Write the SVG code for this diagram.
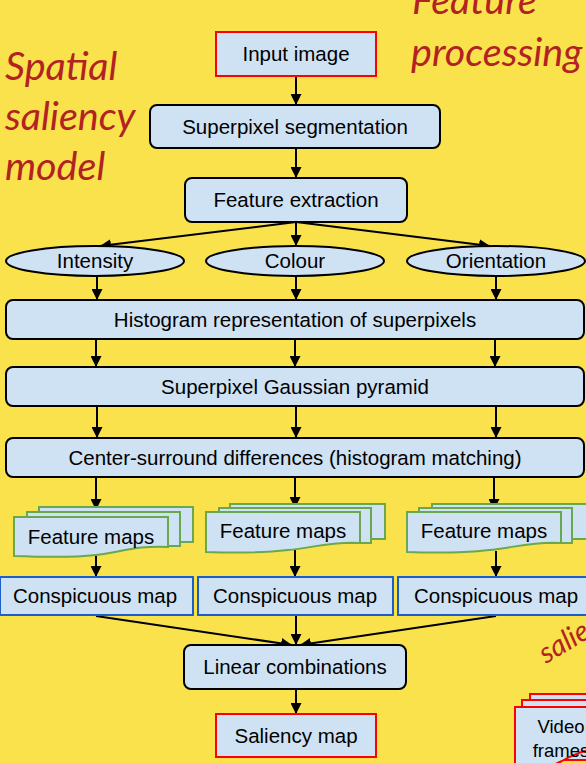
<svg xmlns="http://www.w3.org/2000/svg" width="586" height="763" viewBox="0 0 586 763">
<defs>
<marker id="ah" viewBox="0 0 10 10" refX="10" refY="5" markerWidth="11" markerHeight="11" markerUnits="userSpaceOnUse" orient="auto">
<path d="M0,0 L10,5 L0,10 z" fill="#000"/>
</marker>
<style>
.bg{fill:#F9E24B}
.rbox{fill:#CFE2F3;stroke:#000;stroke-width:2}
.red{fill:#CFE2F3;stroke:#FF0000;stroke-width:2}
.blue{fill:#CFE2F3;stroke:#1C5FC9;stroke-width:2}
.green{fill:#CFE2F3;stroke:#6AA84F;stroke-width:2}
.t{font-family:"Liberation Sans",Arial,sans-serif;font-size:20.5px;fill:#000;text-anchor:middle}
.vt{font-family:"Liberation Sans",Arial,sans-serif;font-size:18.5px;fill:#000;text-anchor:middle}
.it{font-family:Lato,"Open Sans",sans-serif;font-style:italic;font-size:39.5px;fill:#B22222}
.c line,.c path{stroke:#000;stroke-width:2;fill:none;marker-end:url(#ah)}
</style>
</defs>
<rect class="bg" x="0" y="0" width="586" height="763"/>

<g id="labels">
<text class="it" x="5" y="80">Spatial</text>
<text class="it" x="5" y="130">saliency</text>
<text class="it" x="5" y="180">model</text>
<text class="it" x="412" y="14">Feature</text>
<text class="it" x="411" y="66">processing</text>
<text class="it" style="font-size:29px" transform="translate(546,664) rotate(-31)" x="0" y="0">saliency</text>
</g>

<g id="video-frames">
<rect class="red" x="530" y="694" width="80" height="60"/>
<rect class="red" x="522" y="700" width="80" height="60"/>
<path class="red" d="M515,707 H612 V750 C596,746 578,752 562,761 C546,769 530,771 515,769 Z"/>
<text class="vt" x="561" y="733">Video</text>
<text class="vt" x="561" y="757">frames</text>
</g>

<g class="c" id="connectors">
<line x1="296" y1="76" x2="296" y2="105"/>
<line x1="296" y1="148" x2="296" y2="178"/>
<line x1="296" y1="222" x2="100" y2="246"/>
<line x1="296" y1="222" x2="296" y2="246"/>
<line x1="296" y1="222" x2="490" y2="246"/>
<line x1="97" y1="276" x2="97" y2="300"/>
<line x1="296" y1="276" x2="296" y2="300"/>
<line x1="496" y1="276" x2="496" y2="300"/>
<line x1="96" y1="339" x2="96" y2="367"/>
<line x1="295" y1="339" x2="295" y2="367"/>
<line x1="495" y1="339" x2="495" y2="367"/>
<line x1="97" y1="406" x2="97" y2="438"/>
<line x1="296" y1="406" x2="296" y2="438"/>
<line x1="496" y1="406" x2="496" y2="438"/>
<line x1="96" y1="477" x2="96" y2="510"/>
<line x1="295" y1="477" x2="295" y2="508"/>
<line x1="494" y1="477" x2="494" y2="510"/>
<line x1="96" y1="556" x2="96" y2="577"/>
<line x1="295" y1="550" x2="295" y2="577"/>
<line x1="496" y1="551" x2="496" y2="577"/>
<line x1="96" y1="616" x2="292" y2="645"/>
<line x1="296" y1="616" x2="296" y2="645"/>
<line x1="496" y1="616" x2="300" y2="645"/>
<line x1="296" y1="689" x2="296" y2="714"/>
</g>

<g id="input-image">
<rect class="red" x="216" y="32" width="160" height="44"/>
<text class="t" x="296" y="61">Input image</text>
</g>
<g id="superpixel-segmentation">
<rect class="rbox" x="150" y="105" width="290" height="43" rx="7"/>
<text class="t" x="295" y="134">Superpixel segmentation</text>
</g>
<g id="feature-extraction">
<rect class="rbox" x="185" y="178" width="222" height="44" rx="7"/>
<text class="t" x="296" y="207">Feature extraction</text>
</g>
<g id="intensity">
<ellipse class="rbox" cx="95" cy="261" rx="89" ry="15"/>
<text class="t" x="95" y="268">Intensity</text>
</g>
<g id="colour">
<ellipse class="rbox" cx="295" cy="261" rx="89" ry="15"/>
<text class="t" x="295" y="268">Colour</text>
</g>
<g id="orientation">
<ellipse class="rbox" cx="496" cy="261" rx="89" ry="15"/>
<text class="t" x="496" y="268">Orientation</text>
</g>
<g id="histogram">
<rect class="rbox" x="6" y="300" width="578" height="39" rx="7"/>
<text class="t" x="295" y="327">Histogram representation of superpixels</text>
</g>
<g id="gaussian-pyramid">
<rect class="rbox" x="6" y="367" width="578" height="39" rx="7"/>
<text class="t" x="295" y="394">Superpixel Gaussian pyramid</text>
</g>
<g id="center-surround">
<rect class="rbox" x="6" y="438" width="578" height="39" rx="7"/>
<text class="t" x="295" y="465">Center-surround differences (histogram matching)</text>
</g>

<g id="feature-maps-1">
<rect class="green" x="39" y="507" width="154" height="35"/>
<rect class="green" x="27" y="512" width="153" height="34"/>
<path class="green" d="M14,517 H168 V547 C140,545 120,552 96,555 C70,558 40,557 14,556 Z"/>
<text class="t" x="91" y="544">Feature maps</text>
</g>
<g id="feature-maps-2">
<rect class="green" x="230" y="504" width="155" height="35"/>
<rect class="green" x="219" y="508" width="152" height="35"/>
<path class="green" d="M206,512 H360 V543 C332,541 312,548 288,550 C262,553 232,553 206,552 Z"/>
<text class="t" x="283" y="538">Feature maps</text>
</g>
<g id="feature-maps-3">
<rect class="green" x="432" y="504" width="155" height="35"/>
<rect class="green" x="419" y="508" width="153" height="35"/>
<path class="green" d="M407,512 H561 V543 C533,541 513,548 489,550 C463,553 433,553 407,552 Z"/>
<text class="t" x="484" y="538">Feature maps</text>
</g>

<g id="conspicuous-1">
<rect class="blue" x="0" y="577" width="193" height="38"/>
<text class="t" x="95" y="603">Conspicuous map</text>
</g>
<g id="conspicuous-2">
<rect class="blue" x="198" y="577" width="195" height="38"/>
<text class="t" x="295" y="603">Conspicuous map</text>
</g>
<g id="conspicuous-3">
<rect class="blue" x="398" y="577" width="196" height="38"/>
<text class="t" x="496" y="603">Conspicuous map</text>
</g>

<g id="linear-combinations">
<rect class="rbox" x="184" y="645" width="222" height="44" rx="7"/>
<text class="t" x="295" y="674">Linear combinations</text>
</g>
<g id="saliency-map">
<rect class="red" x="216" y="714" width="160" height="43"/>
<text class="t" x="296" y="743">Saliency map</text>
</g>
</svg>
